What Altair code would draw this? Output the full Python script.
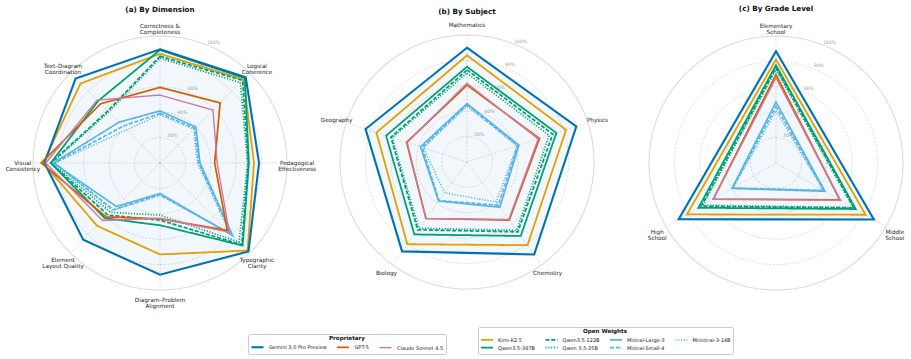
import altair as alt
import pandas as pd

# ---------------------------------------------------------------- data
DIMENSIONS = [
    "Correctness &\nCompleteness", "Logical\nCoherence", "Pedagogical\nEffectiveness",
    "Typographic\nClarity", "Diagram–Problem\nAlignment", "Element\nLayout Quality",
    "Visual\nConsistency", "Text–Diagram\nCoordination",
]
SUBJECTS = ["Mathematics", "Physics", "Chemistry", "Biology", "Geography"]
GRADES = ["Elementary\nSchool", "Middle\nSchool", "High\nSchool"]

PROPRIETARY = ["Gemini 3.0 Pro Preview", "GPT-5", "Claude Sonnet 4.5"]
OPEN_WEIGHTS = ["Kimi-K2.5", "Qwen3.5-397B", "Qwen3.5-122B", "Qwen 3.5-35B",
                "Mistral-Large-3", "Mistral-Small-4", "Ministral-3-14B"]

# scores (%) per model, in the axis order of each panel
BY_DIMENSION = {
    "Gemini 3.0 Pro Preview": [89.5, 95.5, 78, 98.5, 88, 85.5, 91, 94],
    "GPT-5":                  [59.5, 67, 43, 75, 44, 60, 93.5, 66],
    "Claude Sonnet 4.5":      [53.5, 59, 45, 77, 43.5, 64, 90, 70],
    "Kimi-K2.5":              [86, 93, 74, 97.5, 72, 70, 92, 88.5],
    "Qwen3.5-397B":           [89, 94.5, 70, 92, 49, 61.5, 86, 69],
    "Qwen3.5-122B":           [84, 92, 69.5, 91, 45, 58, 86, 58],
    "Qwen 3.5-35B":           [82.5, 89.5, 69, 88, 41, 55, 85, 57],
    "Mistral-Large-3":        [41, 40, 31.5, 81, 24, 48.5, 84, 45.5],
    "Mistral-Small-4":        [39, 38.5, 30.5, 79.5, 25, 52, 83, 41],
    "Ministral-3-14B":        [38, 37.5, 29.5, 78, 25.5, 53, 83, 37],
}
BY_SUBJECT = {
    "Gemini 3.0 Pro Preview": [90, 90.5, 90, 87, 84],
    "GPT-5":                  [60.5, 60, 56.5, 55, 50],
    "Claude Sonnet 4.5":      [62, 59, 56, 55, 49.5],
    "Kimi-K2.5":              [84, 82, 81, 80, 75],
    "Qwen3.5-397B":           [75, 74, 72, 70.5, 67],
    "Qwen3.5-122B":           [72.5, 71, 68, 66, 63],
    "Qwen 3.5-35B":           [70, 68, 66.5, 64.5, 62],
    "Mistral-Large-3":        [46, 43, 44, 38, 38.5],
    "Mistral-Small-4":        [45, 42, 42, 37.5, 37],
    "Ministral-3-14B":        [44, 41.5, 39, 30, 36],
}
BY_GRADE = {
    "Gemini 3.0 Pro Preview": [88, 89, 88.5],
    "GPT-5":                  [69.5, 58, 57],
    "Claude Sonnet 4.5":      [67, 58.5, 57],
    "Kimi-K2.5":              [81.5, 81.5, 81],
    "Qwen3.5-397B":           [77, 72.5, 70.5],
    "Qwen3.5-122B":           [75, 71, 68],
    "Qwen 3.5-35B":           [73.5, 70, 66.5],
    "Mistral-Large-3":        [48, 44.5, 40],
    "Mistral-Small-4":        [44.5, 43.5, 39.5],
    "Ministral-3-14B":        [41, 43, 39],
}

RING_LEVELS = [20, 40, 60, 80, 100]
RING_TEXT = ["20%", "40%", "60%", "80%", "100%"]

# ---------------------------------------------------------------- styling
COLOR = {
    "Gemini 3.0 Pro Preview": "#0072B2", "GPT-5": "#D55E00", "Claude Sonnet 4.5": "#CC79A7",
    "Kimi-K2.5": "#E69F00", "Qwen3.5-397B": "#009E73", "Qwen3.5-122B": "#009E73",
    "Qwen 3.5-35B": "#009E73", "Mistral-Large-3": "#56B4E9", "Mistral-Small-4": "#56B4E9",
    "Ministral-3-14B": "#56B4E9",
}
WIDTH = {
    "Gemini 3.0 Pro Preview": 2.1, "GPT-5": 1.4, "Claude Sonnet 4.5": 1.3,
    "Kimi-K2.5": 1.8, "Qwen3.5-397B": 1.6, "Qwen3.5-122B": 1.3, "Qwen 3.5-35B": 1.3,
    "Mistral-Large-3": 1.2, "Mistral-Small-4": 1.2, "Ministral-3-14B": 1.1,
}
SOLID, DASHED, DOTTED = [1, 0], [4, 1.8], [1.1, 1.7]
DASH = {
    "Kimi-K2.5": SOLID, "Qwen3.5-397B": SOLID, "Qwen3.5-122B": DASHED, "Qwen 3.5-35B": DOTTED,
    "Mistral-Large-3": SOLID, "Mistral-Small-4": DASHED, "Ministral-3-14B": DOTTED,
}

FONT = "DejaVu Sans"
W, H = 911, 359
RADIUS = 127          # canvas units for a 100% score
LABEL_R = 108         # axis-name position, in score units
TICK_ANGLE = 24       # degrees clockwise from the top
PANELS = [
    # title, axis names, scores, centre x, centre y, title y
    ("(a) By Dimension", DIMENSIONS, BY_DIMENSION, 160, 163, 10),
    ("(b) By Subject", SUBJECTS, BY_SUBJECT, 467, 162, 12),
    ("(c) By Grade Level", GRADES, BY_GRADE, 776, 163, 9),
]

# ---------------------------------------------------------------- tables
score_rows, axis_rows, ring_rows, tick_rows, title_rows = [], [], [], [], []
for p, (title, axes, scores, cx, cy, ty) in enumerate(PANELS):
    n = len(axes)
    title_rows.append({"title": title, "px": cx, "py": ty})
    for i, name in enumerate(axes):
        axis_rows.append({"panel": p, "idx": i, "n": n, "label": name, "cx": cx, "cy": cy})
        for model, vals in scores.items():
            score_rows.append({
                "panel": p, "model": model, "idx": i, "n": n, "score": vals[i],
                "cx": cx, "cy": cy,
                "group": "prop" if model in PROPRIETARY else "open",
            })
    for lvl, txt in zip(RING_LEVELS, RING_TEXT):
        tick_rows.append({"panel": p, "level": lvl, "text": txt, "cx": cx, "cy": cy})
        for s in range(120):
            ring_rows.append({"panel": p, "level": lvl, "idx": s, "n": 120, "score": lvl,
                              "cx": cx, "cy": cy})

scores_df = pd.DataFrame(score_rows)
axes_df = pd.DataFrame(axis_rows)
rings_df = pd.DataFrame(ring_rows)
ticks_df = pd.DataFrame(tick_rows)
titles_df = pd.DataFrame(title_rows)

K = RADIUS / 100.0
XS = alt.Scale(domain=[0, W], nice=False, zero=False)
YS = alt.Scale(domain=[0, H], nice=False, zero=False, reverse=True)


def polar(chart, r_expr="datum.score"):
    """Map (axis index, radius) to canvas x / y."""
    return chart.transform_calculate(
        ang="2 * PI * datum.idx / datum.n",
    ).transform_calculate(
        x=f"datum.cx + {K} * ({r_expr}) * sin(datum.ang)",
        y=f"datum.cy - {K} * ({r_expr}) * cos(datum.ang)",
    )


X = alt.X("x:Q", scale=XS, axis=None)
Y = alt.Y("y:Q", scale=YS, axis=None)

# grid rings
rings_inner = polar(alt.Chart(rings_df).transform_filter("datum.level < 100")).mark_line(
    interpolate="linear-closed", stroke="#cfcfcf", strokeWidth=0.7, strokeDash=[2, 1.6]
).encode(x=X, y=Y, detail=["panel:N", "level:N"], order="idx:Q")
rings_outer = polar(alt.Chart(rings_df).transform_filter("datum.level == 100")).mark_line(
    interpolate="linear-closed", stroke="#dcdcdc", strokeWidth=1.1
).encode(x=X, y=Y, detail=["panel:N", "level:N"], order="idx:Q")

# spokes
spokes = alt.Chart(axes_df).transform_calculate(
    ang="2 * PI * datum.idx / datum.n",
).transform_calculate(
    x0="datum.cx", y0="datum.cy",
    x1=f"datum.cx + {RADIUS} * sin(datum.ang)",
    y1=f"datum.cy - {RADIUS} * cos(datum.ang)",
).mark_rule(stroke="#d0d0d0", strokeWidth=0.7, strokeDash=[2, 1.6]).encode(
    x=alt.X("x0:Q", scale=XS, axis=None), y=alt.Y("y0:Q", scale=YS, axis=None),
    x2="x1:Q", y2="y1:Q",
)

# ring value labels
ticks = alt.Chart(ticks_df).transform_calculate(
    x=f"datum.cx + {K} * (datum.level + 3.5) * sin({TICK_ANGLE} * PI / 180)",
    y=f"datum.cy - {K} * (datum.level + 3.5) * cos({TICK_ANGLE} * PI / 180)",
).mark_text(font=FONT, fontSize=4.6, color="#a6a6a6", align="center", baseline="middle").encode(
    x=X, y=Y, text="text:N"
)

# filled area of the leading model
fill = polar(alt.Chart(scores_df).transform_filter(
    alt.datum.model == PROPRIETARY[0]
)).mark_line(
    interpolate="linear-closed", fill="#0072B2", fillOpacity=0.055, strokeOpacity=0
).encode(x=X, y=Y, detail="panel:N", order="idx:Q")

# legend: short line symbols (path drawn to the right of the symbol slot)
LEGEND_COMMON = dict(
    orient="none", symbolType="M-1,0H3", symbolSize=36, symbolStrokeWidth=1.5,
    symbolFillColor="transparent",
    labelFont=FONT, labelFontSize=5, labelColor="#222222", labelOffset=10,
    titleFont=FONT, titleFontSize=5.6, titleFontWeight="bold", titleColor="#111111",
    titleAnchor="middle", titlePadding=1, strokeColor="#cccccc", cornerRadius=1.5,
    padding=2, columnPadding=6.5, rowPadding=0, labelLimit=200, direction="vertical",
)

open_lines = polar(alt.Chart(scores_df).transform_filter(alt.datum.group == "open")).mark_line(
    interpolate="linear-closed"
).encode(
    x=X, y=Y, detail="panel:N", order="idx:Q",
    color=alt.Color("model:N", scale=alt.Scale(domain=OPEN_WEIGHTS,
                                                range=[COLOR[m] for m in OPEN_WEIGHTS]),
                    legend=alt.Legend(title="Open Weights", columns=4,
                                      legendX=478, legendY=327, **LEGEND_COMMON)),
    strokeDash=alt.StrokeDash("model:N", scale=alt.Scale(domain=OPEN_WEIGHTS,
                                                         range=[DASH[m] for m in OPEN_WEIGHTS]),
                              legend=alt.Legend(title="Open Weights", columns=4,
                                                legendX=478, legendY=327, **LEGEND_COMMON)),
    strokeWidth=alt.StrokeWidth("model:N", scale=alt.Scale(domain=OPEN_WEIGHTS,
                                                           range=[WIDTH[m] for m in OPEN_WEIGHTS]),
                                legend=None),
)

prop_lines = polar(alt.Chart(scores_df).transform_filter(alt.datum.group == "prop")).mark_line(
    interpolate="linear-closed"
).encode(
    x=X, y=Y, detail="panel:N", order="idx:Q",
    color=alt.Color("model:N", scale=alt.Scale(domain=PROPRIETARY,
                                                range=[COLOR[m] for m in PROPRIETARY]),
                    legend=alt.Legend(title="Proprietary", columns=3,
                                      legendX=248, legendY=334, **LEGEND_COMMON)),
    strokeWidth=alt.StrokeWidth("model:N", scale=alt.Scale(domain=PROPRIETARY,
                                                           range=[WIDTH[m] for m in PROPRIETARY]),
                                legend=None),
)

# axis names
axis_labels = polar(alt.Chart(axes_df), r_expr=str(LABEL_R)).mark_text(
    font=FONT, fontSize=5.7, color="#222222", align="center", baseline="middle",
    lineBreak="\n", lineHeight=6.1,
).encode(x=X, y=Y, text="label:N")

# panel titles
titles = alt.Chart(titles_df).mark_text(
    font=FONT, fontSize=7.2, fontWeight="bold", color="#111111", align="center", baseline="middle"
).encode(
    x=alt.X("px:Q", scale=XS, axis=None), y=alt.Y("py:Q", scale=YS, axis=None), text="title:N"
)

chart = alt.layer(
    rings_inner, rings_outer, spokes, ticks, fill, open_lines, prop_lines, axis_labels, titles
).resolve_scale(
    color="independent", strokeDash="independent", strokeWidth="independent"
).properties(
    width=W, height=H, padding=0, autosize=alt.AutoSizeParams(type="none"),
    background="white",
).configure_view(stroke=None)

chart.save("out.html", embed_options={"renderer": "svg", "actions": False})
